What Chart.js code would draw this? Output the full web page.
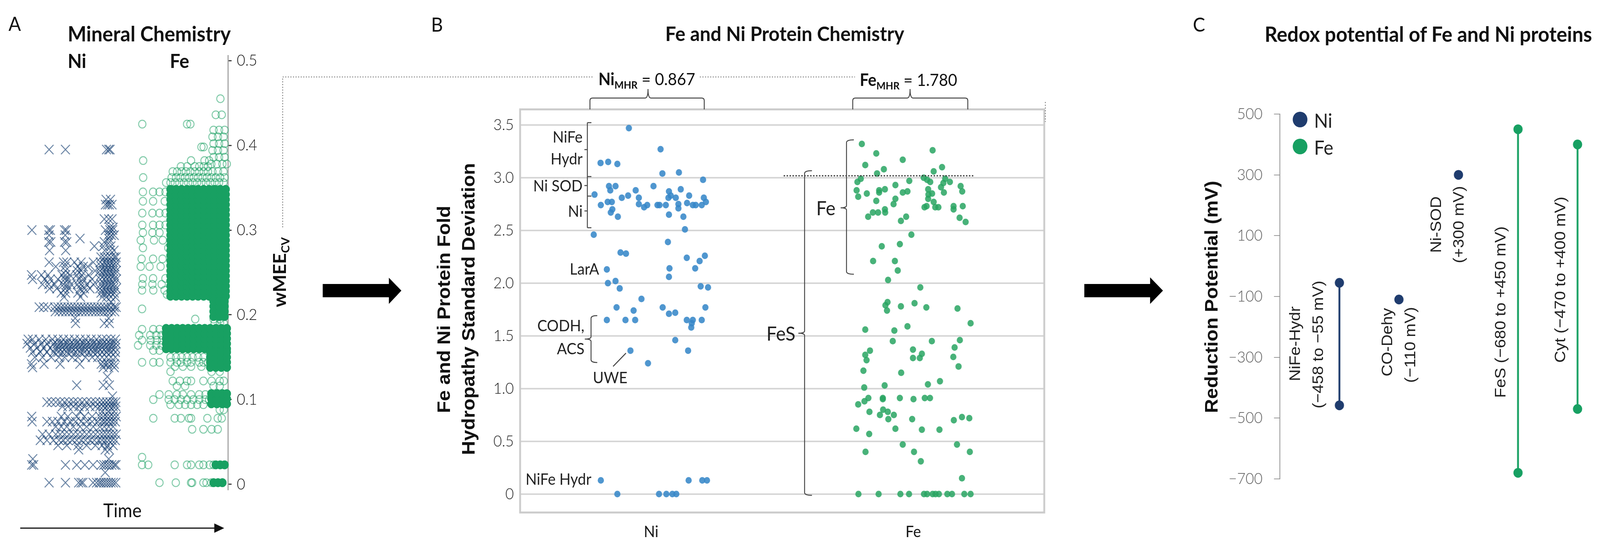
<!DOCTYPE html>
<html><head><meta charset="utf-8">
<script src="https://cdn.jsdelivr.net/npm/chart.js@4.4.1/dist/chart.umd.min.js"></script>
<style>
html,body{margin:0;padding:0;background:#fff;overflow:hidden;}
#root{position:relative;width:4353px;height:1408px;overflow:hidden;background:#fff;transform-origin:0 0;}
canvas{position:absolute;}
.t{position:absolute;white-space:nowrap;line-height:1;color:#111;}
#ov{position:absolute;left:0;top:0;}
</style></head>
<body><div id="root">
<canvas id="ca" width="720" height="1200" style="left:0px;top:100px;width:720px;height:1200px"></canvas>
<canvas id="cb" width="1800" height="1170" style="left:1100px;top:230px;width:1800px;height:1170px"></canvas>
<canvas id="cc" width="1153" height="1100" style="left:3200px;top:230px;width:1153px;height:1100px"></canvas>
<svg id="ov" width="4353" height="1408" viewBox="0 0 4353 1408"></svg>
</div>
<script>
// ---------------- Panel A: mineral chemistry (wMEE_CV over time) ----------------
const aTicks = [0, 0.1, 0.2, 0.3, 0.4, 0.5];
const niRows = [
 [0.395,[19.0,26.4,45.0,46.0,46.6]],
 [0.336,[44.8,46.8]],
 [0.330,[44.5,45.5,46.3,47.5]],
 [0.313,[44.0,46.0,47.5]],
 [0.303,[46.5,48.0]],
 [0.300,[11.2,18.8,19.6,26.0,26.8,44.5,46.5,47.8]],
 [0.294,[19.0,26.3,45.8,47.2,48.5]],
 [0.290,[33.0,46.0]],
 [0.286,[18.8,19.8,26.0,27.0,44.0,46.4]],
 [0.281,[39.5,43.5,47.0]],
 [0.276,[19.2,26.5,44.2,46.8,48.4]],
 [0.268,[42.5,44.0,45.5,47.0,48.5,49.3]],
 [0.262,[19.0,25.5,27.0,30.5,33.5,39.0,42.2,43.8,45.2,46.6,48.0,49.4]],
 [0.257,[22.0,26.2,32.0,34.5,36.5,42.6,44.2,45.8,47.3,48.8]],
 [0.252,[26.4,31.8,33.5,39.8,42.0,43.5,45.0,46.5,48.0,49.4]],
 [0.247,[11.0,15.5,18.5,24.8,26.5,28.5,31.5,33.8,37.0,42.5,44.0,45.5,47.0,48.5]],
 [0.242,[11.5,17.0,19.5,23.0,26.0,27.5,32.5,34.5,38.5,42.2,43.8,45.3,46.8,48.3,49.5]],
 [0.236,[16.0,18.8,21.5,25.5,27.0,29.0,31.8,33.5,36.0,39.0,42.5,44.0,45.5,47.0,48.5]],
 [0.231,[19.2,22.5,26.2,28.0,33.0,35.0,37.5,42.0,43.5,45.0,46.5,48.0,49.4]],
 [0.226,[24.5,26.5,32.0,34.5,42.5,44.0,45.5,47.0,48.5]],
 [0.221,[25.8,33.2,43.0,45.0,47.0,49.0]],
 [0.215,[47.0]],
 [0.209,[14.5,16.5,18.5,21.5,23.0,24.5,26.0,27.5,29.0,30.5,32.0,33.5,35.0,36.5,38.0,39.5,41.0,42.5,44.0,45.5,47.0,48.5,49.4]],
 [0.204,[21.8,23.5,25.0,26.5,28.0,29.5,31.0,32.5,34.0,35.5,37.0,38.5,40.0,41.5,42.8,44.2,45.7,47.2,48.7]],
 [0.196,[30.8,46.0]],
 [0.190,[31.0,44.0,46.3]],
 [0.171,[9.5,11.5,14.5,17.5,20.5,23.0,25.5,28.0,30.5,33.0,35.5,38.0,40.5,43.0,45.0,47.0,49.0]],
 [0.166,[9.0,12.5,15.5,18.0,21.0,22.5,24.0,25.5,27.0,28.5,30.0,31.5,33.0,34.5,36.0,37.5,39.0,40.5,42.0,43.5,45.0,46.5,48.0,49.4]],
 [0.161,[10.5,13.5,16.5,19.5,22.0,23.5,25.0,26.5,28.0,29.5,31.0,32.5,34.0,35.5,37.0,38.5,40.0,41.5,43.0,44.5,46.0,47.5,49.0]],
 [0.156,[11.5,15.0,18.0,21.0,23.0,25.0,27.0,29.0,31.0,33.0,35.0,37.0,39.0,41.0,43.0,45.0,47.0,49.0]],
 [0.150,[12.5,16.0,20.0,23.5,26.0,29.5,32.0,35.5,38.5,41.0,43.0,45.0,47.0,49.0]],
 [0.142,[11.0,16.7,24.0,32.9,42.6,44.0,45.5,47.0,48.5]],
 [0.138,[11.5,43.5,46.0,48.5]],
 [0.127,[45.4]],
 [0.117,[31.5,43.5,46.3]],
 [0.104,[47.7]],
 [0.097,[18.0,20.0,22.0,24.0,26.0,28.0,30.0,32.0,34.0,36.0,38.0,40.0,42.0,43.5,45.0,46.5,48.0,49.2]],
 [0.092,[25.0,27.5,30.0,32.5,35.0,37.5,40.0,42.0,43.5,45.0,46.5,48.0,49.2]],
 [0.086,[33.0,43.0,46.0,48.5]],
 [0.080,[11.1,24.5,27.5,31.5,35.0,38.5,42.0,43.5,45.0,46.5,48.0,49.4]],
 [0.074,[11.3,18.0,20.5,23.0,26.0,28.5,31.0,33.5,36.0,38.5,41.0,43.0,44.5,46.0,47.5,49.0]],
 [0.068,[22.0,24.5,27.0,30.0,33.0,36.0,39.0,42.0,44.0,46.0,48.0]],
 [0.059,[16.0,19.0,22.0,24.0,26.0,28.0,30.0,32.0,34.0,36.0,38.0,40.0,42.0,43.5,45.0,46.5,48.0,49.4]],
 [0.052,[15.0,18.0,21.0,23.5,25.5,27.5,29.5,31.5,33.5,35.5,37.5,39.5,41.5,43.0,44.5,46.0,47.5,49.0]],
 [0.046,[23.0,27.0,32.0,36.0,40.0,43.0,45.5,48.0]],
 [0.041,[32.4,44.4,46.3]],
 [0.030,[11.6,46.0]],
 [0.023,[11.1,12.0,26.4,31.5,35.2,38.9,42.6,43.8,45.0,46.2,47.4,48.6,49.3]],
 [0.014,[44.4]],
 [0.002,[19.0,26.4,32.4,33.5,34.3,38.9,40.5,41.7,42.6,43.7,44.8,45.9,47.0,48.1,49.2]]
];
const feRows = [
 [0.455,[96.6]],
 [0.436,[94.5,97.2]],
 [0.425,[61.2,81.5,83.0]],
 [0.418,[93.5,96.0,98.5]],
 [0.410,[93.0,95.5,98.0]],
 [0.402,[93.5,96.0,98.5]],
 [0.398,[88.0,89.0]],
 [0.394,[93.0,95.5,98.0]],
 [0.386,[93.5,96.0,98.5]],
 [0.382,[61.6,83.3,89.4,91.5]],
 [0.378,[92.5,95.0,97.5,99.5]],
 [0.375,[78.7,81.5,85.0,87.0,89.0,91.0]],
 [0.369,[75.0,77.0,79.0,81.0,83.0,85.0,87.0,89.0,91.0,93.0,95.5,98.0]],
 [0.362,[61.6,74.5,76.5,78.5,80.5,82.5,84.5,86.5,88.5,90.5,92.5,94.5,96.5,98.5]],
 [0.356,[72.0,74.0,76.0,78.0,80.0,82.0,84.0,86.0,88.0,90.0,92.0,94.0,96.0,98.0]],
 [0.345,[61.5,66.1,69.0,71.7]],
 [0.334,[61.5,66.1,71.4]],
 [0.320,[61.2,65.8,69.0,71.7]],
 [0.306,[61.2,66.1,69.0,71.7]],
 [0.297,[61.5,65.8,69.0]],
 [0.288,[60.5,66.5,70.5]],
 [0.279,[61.5,73.0]],
 [0.266,[60.9,66.1,70.4]],
 [0.257,[60.5,64.5,69.5]],
 [0.243,[61.5,66.1,71.7]],
 [0.236,[61.2,65.8,70.0]],
 [0.229,[61.1,66.2,71.3]],
 [0.224,[72.4]],
 [0.207,[61.1]],
 [0.195,[85.2,93.5,96.3]],
 [0.190,[94.0,96.5,98.1]],
 [0.183,[61.1,66.2,69.0]],
 [0.176,[59.8,64.8,67.5,70.0]],
 [0.170,[61.1,65.0,67.8,70.3]],
 [0.164,[59.3,64.8,67.5,70.0]],
 [0.158,[66.2,69.0]],
 [0.150,[74.0,76.5,79.0,81.5,84.0,86.5,89.0]],
 [0.144,[61.1,66.2,69.0,74.0,76.9,78.7,81.5,83.3,87.0,88.9,91.0]],
 [0.139,[76.0,79.6,83.3,88.0]],
 [0.133,[74.0,92.6,96.3]],
 [0.122,[75.0,78.2,81.5,83.3,88.9,92.6,96.3,98.1]],
 [0.116,[76.9,80.6,93.5,96.3]],
 [0.106,[69.0,73.2,76.9,79.6,83.3,87.0,89.8]],
 [0.100,[66.2,73.2,75.9,78.7,81.5,84.3,87.0,89.8,91.5]],
 [0.094,[74.0,77.8,80.6,83.3,86.1,88.9]],
 [0.088,[96.3,98.1]],
 [0.078,[66.2,75.9,78.7,82.4,83.3,90.7,95.4,97.2]],
 [0.065,[83.8,88.9,92.6,95.4]],
 [0.032,[61.1]],
 [0.023,[61.1,63.9,75.9,81.5,83.3,87.0,88.9,91.7,93.5]],
 [0.002,[69.0,76.4,83.3,83.8,88.9,90.3,92.5]]
];
// solid (saturated) Fe regions: time values x levels
const feSolidX1 = [74.0,76.5,79.0,81.5,84.0,86.5,89.0,91.5,94.0,96.5,99.0];
const feSolidY1 = [0.222,0.228,0.234,0.240,0.246,0.252,0.258,0.264,0.270,0.276,0.282,0.288,0.294,0.300,0.306,0.312,0.318,0.324,0.330,0.336,0.342,0.348];
const feSolidX2 = [93.5,96.0,98.5];
const feSolidY2 = [0.198,0.204,0.210,0.216];
const feSolidX3 = [72.0,74.5,77.0,79.5,82.0,84.5,87.0,89.5,92.0,94.5,97.0,99.5];
const feSolidY3 = [0.160,0.166,0.172,0.178,0.184];
const feSolidX4 = [92.0,94.5,97.0,99.5];
const feSolidY4 = [0.138,0.144,0.150,0.156];
const feSolidX5 = [92.5,95.0,97.5,99.5];
const feSolidY5 = [0.095,0.101,0.107];
const feSolidX6 = [94.5,96.5,98.5];
const feSolidY6 = [0.023];
const feSolidX7 = [93.5,95.5,97.5];
const feSolidY7 = [0.002];
const feSolidBands = [[feSolidX1,feSolidY1],[feSolidX2,feSolidY2],[feSolidX3,feSolidY3],[feSolidX4,feSolidY4],[feSolidX5,feSolidY5],[feSolidX6,feSolidY6],[feSolidX7,feSolidY7]];

// ---------------- Panel B: protein hydropathy fold SD ----------------
const bCategories = ['Ni','Fe'];
const bTicks = [0,0.5,1.0,1.5,2.0,2.5,3.0,3.5];
const niProtein = [
[0.415,3.47],[0.536,3.27],[0.307,3.14],[0.336,3.15],[0.371,3.13],[0.543,3.04],[0.606,3.05],[0.698,2.98],[0.339,2.92],[0.364,2.92],[0.344,2.88],[0.509,2.92],[0.441,2.88],[0.568,2.87],[0.613,2.89],[0.284,2.84],[0.412,2.83],[0.388,2.81],[0.453,2.81],[0.575,2.83],[0.566,2.81],[0.594,2.81],[0.645,2.83],[0.701,2.81],[0.308,2.74],[0.334,2.77],[0.350,2.77],[0.453,2.75],[0.473,2.72],[0.485,2.74],[0.524,2.74],[0.532,2.74],[0.556,2.74],[0.604,2.75],[0.637,2.76],[0.659,2.74],[0.670,2.74],[0.693,2.74],[0.709,2.77],[0.352,2.70],[0.346,2.67],[0.604,2.71],[0.373,2.63],[0.568,2.65],[0.623,2.63],[0.629,2.51],[0.281,2.46],[0.564,2.39],[0.383,2.29],[0.404,2.28],[0.705,2.26],[0.636,2.24],[0.685,2.21],[0.331,2.13],[0.570,2.14],[0.668,2.14],
[0.568,2.06],[0.335,2.00],[0.364,2.02],[0.380,1.95],[0.689,1.97],[0.717,1.96],[0.463,1.85],[0.368,1.77],[0.433,1.74],[0.544,1.77],[0.568,1.71],[0.592,1.72],[0.707,1.77],[0.331,1.65],[0.402,1.65],[0.439,1.65],[0.636,1.65],[0.659,1.65],[0.693,1.65],[0.655,1.62],[0.653,1.58],[0.592,1.46],[0.421,1.36],[0.641,1.36],[0.488,1.24],[0.308,0.13],[0.643,0.13],[0.695,0.13],[0.713,0.13],[0.371,0],[0.530,0],[0.558,0],[0.581,0],[0.596,0]
];
const feProtein = [
[1.304,3.32],[1.359,3.23],[1.574,3.26],[1.460,3.17],[1.317,3.12],[1.388,3.08],[1.362,3.04],[1.578,3.06],[1.610,3.10],[1.300,2.99],[1.287,2.96],[1.485,2.97],[1.540,3.00],[1.553,2.98],[1.565,2.96],[1.622,2.99],[1.640,2.96],[1.615,2.95],[1.432,2.93],[1.681,2.92],[1.284,2.88],[1.370,2.88],[1.392,2.89],[1.557,2.89],[1.606,2.91],[1.687,2.87],[1.478,2.87],[1.460,2.86],[1.370,2.86],[1.323,2.85],[1.617,2.86],[1.558,2.84],[1.572,2.85],[1.290,2.82],[1.557,2.80],[1.432,2.80],[1.359,2.78],[1.425,2.75],[1.578,2.77],[1.584,2.72],[1.596,2.72],[1.543,2.72],[1.551,2.73],[1.654,2.73],[1.654,2.70],[1.689,2.73],[1.392,2.70],[1.393,2.67],[1.346,2.67],[1.366,2.67],[1.328,2.63],[1.473,2.63],[1.453,2.59],[1.677,2.62],[1.700,2.58],[1.493,2.46],[1.380,2.35],[1.449,2.37],[1.347,2.21],[1.430,2.21],[1.441,2.12],
[1.404,2.03],[1.527,1.96],[1.402,1.82],[1.394,1.79],[1.400,1.74],[1.453,1.78],[1.505,1.81],[1.550,1.77],[1.669,1.76],[1.719,1.62],[1.317,1.56],[1.428,1.55],[1.478,1.59],[1.422,1.45],[1.571,1.45],[1.678,1.46],[1.658,1.39],[1.335,1.36],[1.317,1.32],[1.322,1.27],[1.499,1.37],[1.533,1.33],[1.499,1.29],[1.525,1.29],[1.653,1.30],[1.673,1.21],[1.310,1.17],[1.454,1.15],[1.602,1.07],[1.556,1.04],[1.391,1.03],[1.313,1.01],[1.329,0.91],[1.384,0.91],[1.384,0.90],[1.449,0.91],[1.501,0.90],[1.544,0.91],[1.564,0.91],[1.314,0.88],[1.290,0.85],[1.333,0.78],[1.385,0.80],[1.403,0.78],[1.373,0.75],[1.426,0.75],[1.405,0.71],[1.496,0.71],[1.655,0.70],[1.686,0.73],[1.714,0.72],[1.283,0.62],[1.332,0.57],[1.432,0.62],[1.533,0.61],[1.600,0.61],[1.460,0.47],[1.667,0.47],[1.318,0.40],[1.503,0.40],[1.716,0.40],[1.529,0.31],[1.686,0.15],
[1.291,0],[1.368,0],[1.451,0],[1.484,0],[1.541,0],[1.553,0],[1.574,0],[1.585,0],[1.598,0],[1.630,0],[1.648,0],[1.695,0],[1.719,0]
];

// ---------------- Panel C: redox potentials ----------------
const redoxNames = ['NiFe-Hydr','CO-Dehy','Ni-SOD','FeS','Cyt'];
const redoxMetal = ['Ni','Ni','Ni','Fe','Fe'];
const redoxLow  = [-458, -110, 300, -680, -470];
const redoxHigh = [-55, -110, 300, 450, 400];
const cTicks = [-700,-500,-300,-100,100,300,500];

// ---------------- colours ----------------
const NI_A = 'rgba(24,66,116,0.66)';
const FE_A = 'rgba(24,158,96,0.55)';
const FE_SOLID = 'rgb(24,160,98)';
const NI_B = 'rgba(55,136,200,0.88)';
const FE_B = 'rgba(40,164,98,0.85)';
const NI_C = '#1f3c6e';
const FE_C = '#17a062';

Chart.defaults.font.family = 'Lato';
Chart.defaults.animation = false;

const rowsToPoints = rows => rows.flatMap(([y, xs]) => xs.map(x => ({x, y})));
const bandPoints = feSolidBands.flatMap(([xs, ys]) => ys.flatMap(y => xs.map(x => ({x, y}))));
const fixTicks = arr => (s) => { s.ticks = arr.map(v => ({value: v})); };

// Panel A chart
new Chart(document.getElementById('ca'), {
  type: 'scatter',
  data: { datasets: [
    { data: rowsToPoints(niRows), pointStyle: 'crossRot', pointRadius: 17, borderColor: NI_A, borderWidth: 2.5, backgroundColor: NI_A, clip: false },
    { data: bandPoints, pointStyle: 'circle', pointRadius: 11, borderColor: FE_SOLID, backgroundColor: FE_SOLID, borderWidth: 1, clip: false },
    { data: rowsToPoints(feRows), pointStyle: 'circle', pointRadius: 10, borderColor: FE_A, backgroundColor: 'rgba(0,0,0,0)', borderWidth: 2.5, clip: false }
  ]},
  options: {
    responsive: false, devicePixelRatio: 1,
    layout: { padding: { top: 42, bottom: 47, left: 0, right: 0 } },
    plugins: { legend: { display: false }, tooltip: { enabled: false } },
    scales: {
      x: { type: 'linear', min: 0, max: 100, display: false },
      y: { type: 'linear', position: 'right', min: -0.006, max: 0.506,
        afterBuildTicks: fixTicks(aTicks),
        afterFit: s => { s.width = 100; },
        ticks: { font: { size: 40, weight: '300' }, color: '#111', padding: 14, callback: v => String(v) },
        grid: { drawOnChartArea: false, drawTicks: true, tickLength: 10, color: '#444', tickColor: '#444', lineWidth: 3 },
        border: { display: true, color: '#a0a0a0', width: 3 }
      }
    }
  }
});

// Panel B chart
const framePlugin = { id: 'frame', beforeDatasetsDraw(c) { const a = c.chartArea, ctx = c.ctx; ctx.save(); ctx.strokeStyle = '#cbcbcb'; ctx.lineWidth = 5; ctx.strokeRect(a.left, a.top, a.right - a.left, a.bottom - a.top); ctx.restore(); } };
new Chart(document.getElementById('cb'), {
  type: 'scatter',
  data: { datasets: [
    { label: 'Ni', data: niProtein.map(([x, y]) => ({x, y})), pointRadius: 8.5, backgroundColor: NI_B, borderColor: NI_B, borderWidth: 0, clip: false },
    { label: 'Fe', data: feProtein.map(([x, y]) => ({x, y})), pointRadius: 8.5, backgroundColor: FE_B, borderColor: FE_B, borderWidth: 0, clip: false }
  ]},
  options: {
    responsive: false, devicePixelRatio: 1,
    layout: { padding: { top: 50, right: 59, left: 0, bottom: 0 } },
    plugins: { legend: { display: false }, tooltip: { enabled: false } },
    scales: {
      x: { type: 'linear', min: 0, max: 2,
        afterBuildTicks: fixTicks([0.5, 1.5]),
        afterFit: s => { s.height = 88; },
        ticks: { font: { size: 40, weight: '400' }, color: '#111', padding: 26, callback: (v, i) => bCategories[i] },
        grid: { display: false, drawTicks: false }, border: { display: false }
      },
      y: { type: 'linear', min: -0.175, max: 3.648,
        afterBuildTicks: fixTicks(bTicks),
        afterFit: s => { s.width = 315; },
        ticks: { font: { size: 40, weight: '300' }, color: '#222', padding: 17, callback: v => v === 0 ? '0' : v.toFixed(1) },
        grid: { color: '#d6d6d6', lineWidth: 4, drawTicks: false },
        border: { display: false }
      }
    }
  },
  plugins: [framePlugin]
});

// Panel C chart
const cSets = redoxNames.map((n, i) => {
  const col = redoxMetal[i] === 'Ni' ? NI_C : FE_C;
  const pts = redoxLow[i] === redoxHigh[i] ? [{x: i + 1, y: redoxLow[i]}] : [{x: i + 1, y: redoxLow[i]}, {x: i + 1, y: redoxHigh[i]}];
  return { label: n, data: pts, showLine: true, borderColor: col, backgroundColor: col, borderWidth: 5, pointRadius: 12.5, pointBorderWidth: 0, clip: false };
});
new Chart(document.getElementById('cc'), {
  type: 'scatter',
  data: { datasets: cSets },
  options: {
    responsive: false, devicePixelRatio: 1,
    layout: { padding: { top: 62, right: 10, left: 0, bottom: 104 } },
    plugins: { legend: { display: false }, tooltip: { enabled: false } },
    scales: {
      x: { type: 'linear', min: 0, max: 5.3, display: false },
      y: { type: 'linear', min: -700, max: 500,
        afterBuildTicks: fixTicks(cTicks),
        afterFit: s => { s.width = 282; },
        ticks: { font: { size: 40, weight: '300' }, color: '#5a5a5a', padding: 31, callback: v => (v < 0 ? '\u2212' + Math.abs(v) : String(v)) },
        grid: { drawOnChartArea: false, drawTicks: true, tickLength: 16, color: '#9a9a9a', tickColor: '#9a9a9a', lineWidth: 2 },
        border: { display: true, color: '#8a8a8a', width: 2 }
      }
    }
  }
});

// ---------------- text ----------------
const root = document.getElementById('root');
function T(html, x, y, o = {}) {
  const d = document.createElement('div');
  d.className = 't'; d.innerHTML = html;
  d.style.left = x + 'px'; d.style.top = y + 'px';
  d.style.fontSize = (o.size || 40) + 'px';
  d.style.fontWeight = o.weight || 400;
  d.style.fontFamily = o.family || 'Lato';
  d.style.color = o.color || '#111';
  const ax = o.align === 'right' ? '-100%' : o.align === 'left' ? '0' : '-50%';
  d.style.transform = `translate(${ax},-50%)` + (o.rot ? ` rotate(${o.rot}deg)` : '');
  root.appendChild(d);
}
const SUB = s => `<span style="font-size:0.62em;position:relative;top:0.32em">${s}</span>`;
// panel letters
T('A', 40, 60, {size: 50}); T('B', 1189, 62, {size: 50}); T('C', 3262, 62, {size: 50});
// titles
T('Mineral Chemistry', 184, 86, {size: 54, weight: 700, align: 'left'});
T('Fe and Ni Protein Chemistry', 2135, 85, {size: 52, weight: 700});
T('Redox potential of Fe and Ni proteins', 3886, 87, {size: 54, weight: 700});
// panel A
T('Ni', 184, 155, {size: 50, weight: 700, align: 'left'});
T('Fe', 462, 155, {size: 50, weight: 700, align: 'left'});
T('wMEE' + SUB('CV'), 760, 697, {size: 48, weight: 700, rot: -90});
T('Time', 333, 1306, {size: 48, weight: 400});
// panel B
T('Fe and Ni Protein Fold', 1207, 792, {size: 50, weight: 700, family: 'Liberation Sans', rot: -90});
T('Hydropathy Standard Deviation', 1274, 791, {size: 50, weight: 700, family: 'Liberation Sans', rot: -90});
T('<b>Ni' + SUB('MHR') + '</b> = 0.867', 1628, 201, {size: 43, align: 'left'});
T('<b>Fe' + SUB('MHR') + '</b> = 1.780', 2339, 203, {size: 43, align: 'left'});
T('NiFe', 1585, 350, {size: 40, align: 'right', color: '#222'});
T('Hydr', 1585, 406, {size: 40, align: 'right', color: '#222'});
T('Ni SOD', 1585, 475, {size: 40, align: 'right', color: '#222'});
T('Ni', 1585, 540, {size: 40, align: 'right', color: '#222'});
T('LarA', 1630, 688, {size: 40, align: 'right', color: '#222'});
T('CODH,', 1590, 833, {size: 40, align: 'right', color: '#222'});
T('ACS', 1590, 892, {size: 40, align: 'right', color: '#222'});
T('UWE', 1660, 966, {size: 40, color: '#222'});
T('NiFe Hydr', 1430, 1226, {size: 40, align: 'left', color: '#222'});
T('Fe', 2273, 532, {size: 50, align: 'right', color: '#222'});
T('FeS', 2164, 853, {size: 50, align: 'right', color: '#222'});
// panel C
T('Reduction Potential (mV)', 3296, 760, {size: 50, weight: 700, family: 'Liberation Sans', rot: -90});
const LS = {size: 42, family: 'Liberation Sans', rot: -90, color: '#222'};
T('NiFe-Hydr', 3523, 880, LS); T('(\u2212458 to \u221255 mV)', 3586, 882, LS);
T('CO-Dehy', 3774, 876, LS); T('(\u2212110 mV)', 3836, 883, LS);
T('Ni-SOD', 3906, 575, LS); T('(+300 mV)', 3968, 575, LS);
T('FeS (\u2212680 to +450 mV)', 4082, 799, LS);
T('Cyt (\u2212470 to +400 mV)', 4244, 716, LS);
T('Ni', 3575, 308, {size: 50, align: 'left', color: '#222'});
T('Fe', 3575, 377, {size: 50, align: 'left', color: '#222'});

// ---------------- overlay graphics (annotations) ----------------
const ov = document.getElementById('ov');
let g = '';
const ln = (x1, y1, x2, y2, c = '#333', w = 2.5, extra = '') => { g += `<line x1="${x1}" y1="${y1}" x2="${x2}" y2="${y2}" stroke="${c}" stroke-width="${w}" ${extra}/>`; };
const path = (d, c = '#333', w = 2.5) => { g += `<path d="${d}" fill="none" stroke="${c}" stroke-width="${w}"/>`; };
const DOT = 'stroke-dasharray="3 4"';
ln(769, 582, 769, 197, '#8a8a8a', 2.5, DOT);
ln(769, 197, 1614, 197, '#8a8a8a', 2.5, DOT);
ln(1904, 197, 2326, 197, '#8a8a8a', 2.5, DOT);
ln(2844, 261, 2844, 312, '#8a8a8a', 2.5, DOT);
ln(2132, 450, 2651, 450, '#333', 3, 'stroke-dasharray="4 4"');
const brace = (x1, x2, xm, y, ytip, yb) => path(`M ${x1} ${yb} L ${x1} ${y + 7} Q ${x1} ${y} ${x1 + 7} ${y} L ${xm - 8} ${y} Q ${xm} ${y} ${xm} ${ytip} Q ${xm} ${y} ${xm + 8} ${y} L ${x2 - 7} ${y} Q ${x2} ${y} ${x2} ${y + 7} L ${x2} ${yb}`, '#444', 2.5);
brace(1605, 1916, 1763, 251, 228, 280);
brace(2320, 2633, 2476, 251, 228, 280);
const bracket = (x, y1, y2, ym, wr, wl) => path(`M ${x + wr} ${y1} Q ${x} ${y1} ${x} ${y1 + 7} L ${x} ${ym - 6} Q ${x} ${ym} ${x - wl} ${ym} Q ${x} ${ym} ${x} ${ym + 6} L ${x} ${y2 - 7} Q ${x} ${y2} ${x + wr} ${y2}`, '#444', 2.5);
ln(1598, 314, 1598, 583, '#444', 2.5);
[314, 452, 502, 583].forEach(y => ln(1598, y, 1609, y, '#444', 2.5));
[383, 475, 540].forEach(y => ln(1598, y, 1590, y, '#444', 2.5));
bracket(1608, 808, 928, 868, 17, 17);
ln(1668, 938, 1703, 904, '#444', 2.5);
bracket(2303, 358, 702, 532, 20, 16);
bracket(2189, 437, 1268, 853, 20, 17);
g += `<polygon points="878,727 1058,727 1058,711 1092,744 1058,778 1058,761 878,761" fill="#000"/>`;
g += `<polygon points="2950,727 3129,727 3129,710 3164,744 3129,778 3129,761 2950,761" fill="#000"/>`;
ln(55, 1352, 590, 1352, '#111', 3);
g += `<polygon points="583,1340 610,1352 583,1364" fill="#111"/>`;
g += `<circle cx="3537" cy="306" r="20" fill="${NI_C}"/><circle cx="3537" cy="375" r="20" fill="${FE_C}"/>`;
ov.innerHTML = g;

// the layout is designed at 4353x1408; stretch it onto the actual viewport
const sx = innerWidth / 4353, sy = innerHeight / 1408;
if (Math.abs(sx - 1) > 0.001 || Math.abs(sy - 1) > 0.001) root.style.transform = `scale(${sx},${sy})`;
</script>
</body></html>
